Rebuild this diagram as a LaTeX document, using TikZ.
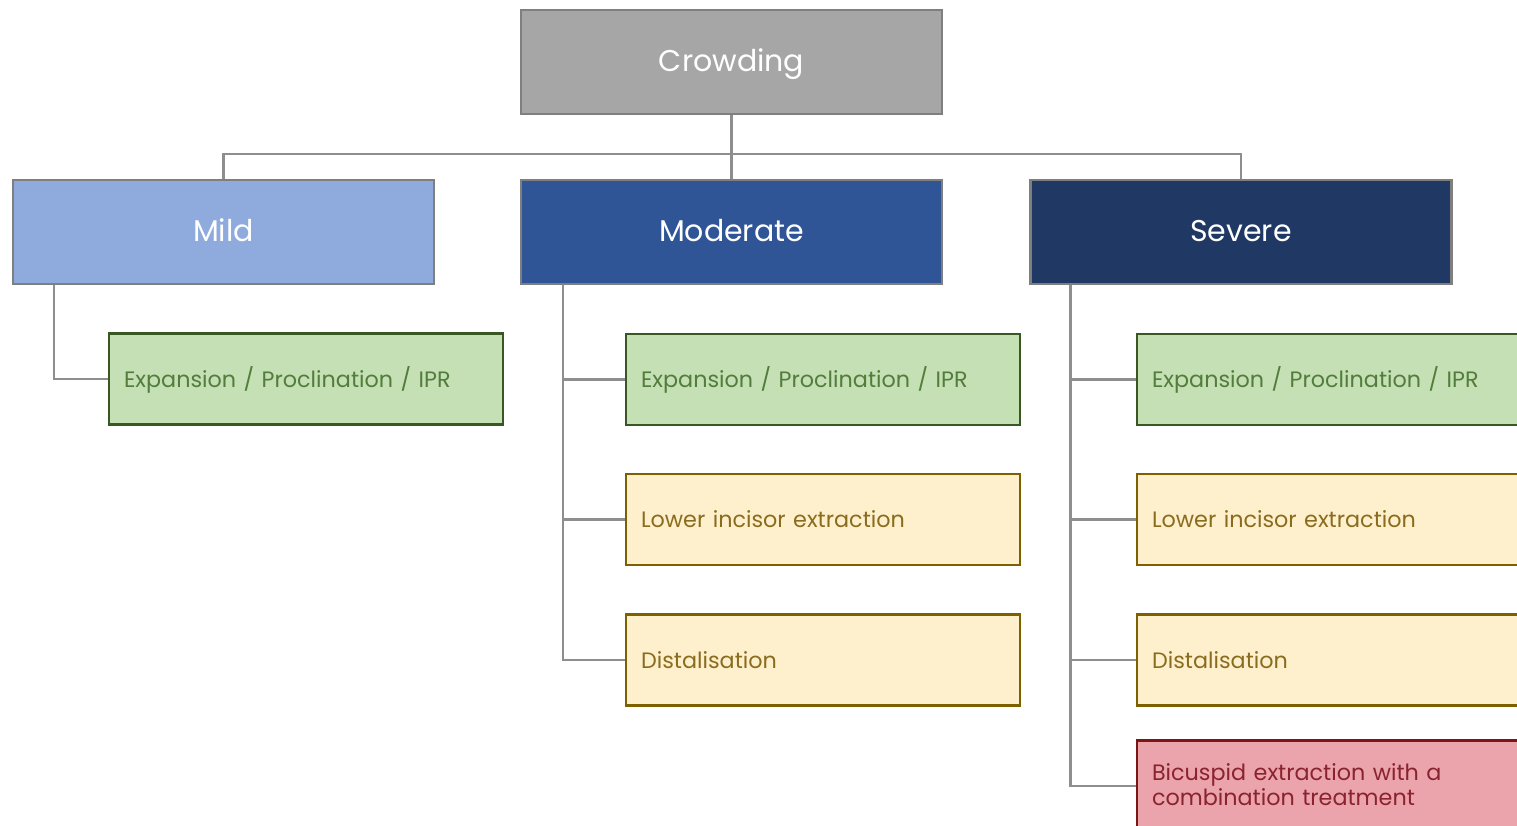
\documentclass[tikz,border=0pt]{standalone}
\usepackage{fontspec}
\setmainfont{Poppins}
\definecolor{topgray}{HTML}{A6A6A6}
\definecolor{edgegray}{HTML}{7F7F7F}
\definecolor{linkgray}{HTML}{8E8E8E}
\definecolor{mildblue}{HTML}{8FAADC}
\definecolor{modblue}{HTML}{2F5597}
\definecolor{sevblue}{HTML}{203864}
\definecolor{greenfill}{HTML}{C5E0B4}
\definecolor{greenedge}{HTML}{385723}
\definecolor{greentext}{HTML}{527D3D}
\definecolor{yellowfill}{HTML}{FFF0CD}
\definecolor{yellowedge}{HTML}{7F6000}
\definecolor{yellowtext}{HTML}{8A6C1E}
\definecolor{redfill}{HTML}{EBA4AB}
\definecolor{rededge}{HTML}{7C1616}
\definecolor{redtext}{HTML}{8A2330}
\begin{document}
\begin{tikzpicture}[x=1pt,y=-1pt,
  head/.style={draw=edgegray, line width=2.2pt, minimum width=421pt, minimum height=104pt,
    inner sep=0pt, text=white, text height=24pt, text depth=4pt,
    font=\fontsize{30}{36}\selectfont},
  leaf/.style={line width=2.2pt, minimum height=91pt, text width=364pt, inner xsep=15pt,
    inner ysep=0pt, align=left, text height=18pt, text depth=2pt,
    font=\fontsize{22.3}{25}\selectfont},
  good/.style={leaf, draw=greenedge, fill=greenfill, text=greentext},
  mid/.style={leaf, draw=yellowedge, fill=yellowfill, text=yellowtext},
  bad/.style={leaf, draw=rededge, fill=redfill, text=redtext, text depth=30pt},
  link/.style={draw=linkgray, line width=2.2pt}
]
\useasboundingbox (0,0) rectangle (1517,826);
\clip (0,0) rectangle (1517,826);

% top level and severity levels
\node[head, fill=topgray] (crowd) at (731.5,62) {Crowding};
\node[head, fill=mildblue] (mild) at (223.5,232) {Mild};
\node[head, fill=modblue] (moderate) at (731.5,232) {Moderate};
\node[head, fill=sevblue] (severe) at (1241,232) {Severe};

% treatment options
\node[good] (m1) at (306,379) {Expansion / Proclination / IPR};

\node[good] (d1) at (823,379.5) {Expansion / Proclination / IPR};
\node[mid]  (d2) at (823,519.5) {Lower incisor extraction};
\node[mid]  (d3) at (823,660)   {Distalisation};

\node[good] (s1) at (1334,379.5) {Expansion / Proclination / IPR};
\node[mid]  (s2) at (1334,519.5) {Lower incisor extraction};
\node[mid]  (s3) at (1334,660)   {Distalisation};
\node[bad]  (s4) at (1334,786)   {Bicuspid extraction with a\\combination treatment};

% connectors
\coordinate (bus) at (731.5,154);
\path[link] (crowd.south) -- (moderate.north);
\path[link] (mild.north) -- (mild.north |- bus) -- (severe.north |- bus) -- (severe.north);

\coordinate (mroot) at ([xshift=42pt]mild.south west);
\path[link] (mroot) |- (m1.west);

\coordinate (droot) at ([xshift=43pt]moderate.south west);
\path[link] (droot) |- (d1.west);
\path[link] (droot) |- (d2.west);
\path[link] (droot) |- (d3.west);

\coordinate (sroot) at ([xshift=41pt]severe.south west);
\path[link] (sroot) |- (s1.west);
\path[link] (sroot) |- (s2.west);
\path[link] (sroot) |- (s3.west);
\path[link] (sroot) |- (s4.west);
\end{tikzpicture}
\end{document}
